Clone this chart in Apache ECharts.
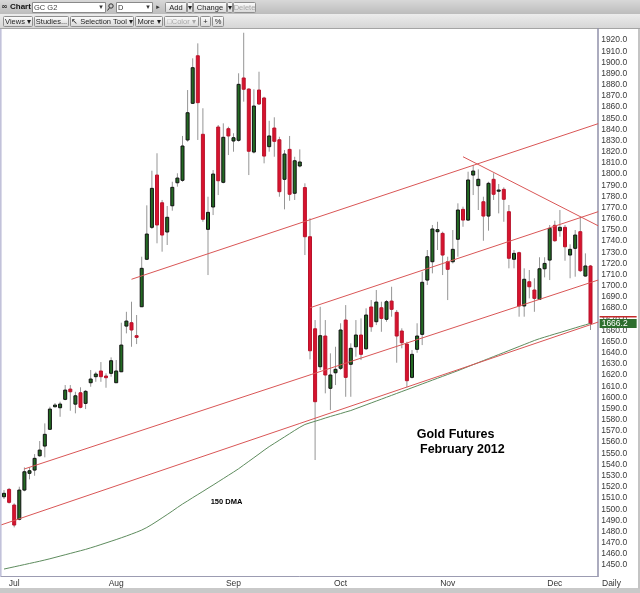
<!DOCTYPE html>
<html><head><meta charset="utf-8">
<script src="https://cdn.jsdelivr.net/npm/echarts/dist/echarts.min.js"></script>
<style>html,body{margin:0;padding:0;background:#fff}#c{width:640px;height:593px}</style>
</head><body><div id="c"></div>
<script>
// ---- trading days (categories) ----
const monthDays = [
  ['Jun', [29, 30]],
  ['Jul', [1, 5, 6, 7, 8, 11, 12, 13, 14, 15, 18, 19, 20, 21, 22, 25, 26, 27, 28, 29]],
  ['Aug', [1, 2, 3, 4, 5, 8, 9, 10, 11, 12, 15, 16, 17, 18, 19, 22, 23, 24, 25, 26, 29, 30, 31]],
  ['Sep', [1, 2, 6, 7, 8, 9, 12, 13, 14, 15, 16, 19, 20, 21, 22, 23, 26, 27, 28, 29, 30]],
  ['Oct', [3, 4, 5, 6, 7, 10, 11, 12, 13, 14, 17, 18, 19, 20, 21, 24, 25, 26, 27, 28, 31]],
  ['Nov', [1, 2, 3, 4, 7, 8, 9, 10, 11, 14, 15, 16, 17, 18, 21, 22, 23, 25, 28, 29, 30]],
  ['Dec', [1, 2, 5, 6, 7, 8, 9, 12]]
];
const monthLabels = ['Jul', 'Aug', 'Sep', 'Oct', 'Nov', 'Dec'];

// ---- OHLC values ----
const openV = [1511.1,1517.7,1503.7,1490.9,1517.1,1532.1,1535.0,1547.8,1556.5,1571.5,
1591.7,1590.8,1598.3,1607.5,1594.0,1604.2,1594.7,1613.2,1618.6,1623.7,
1619.2,1621.6,1613.2,1623.0,1663.9,1666.9,1655.3,1681.2,1723.7,1752.3,
1799.1,1774.3,1748.1,1771.6,1792.2,1794.4,1830.5,1863.3,1905.9,1835.6,
1750.5,1770.5,1842.1,1792.6,1840.6,1829.6,1830.2,1886.0,1876.1,1819.7,
1875.2,1868.1,1824.5,1841.2,1830.7,1795.3,1822.1,1782.8,1807.2,1787.9,
1743.9,1661.5,1627.5,1655.0,1608.2,1622.1,1626.1,1669.3,1629.7,1645.4,
1655.9,1643.6,1681.0,1667.8,1680.3,1670.0,1686.3,1676.2,1659.5,1647.8,
1618.0,1643.1,1656.5,1705.1,1721.5,1748.4,1746.9,1721.5,1721.5,1741.6,
1768.4,1758.8,1799.1,1789.6,1775.2,1762.4,1795.3,1784.8,1786.3,1766.3,
1723.7,1729.6,1681.9,1703.6,1696.2,1687.8,1715.2,1723.0,1754.1,1749.3,
1752.3,1727.5,1733.5,1748.4,1708.7,1717.7];
const closeV = [1514.2,1506.1,1485.8,1517.1,1533.5,1534.4,1545.5,1552.9,1567.0,1589.6,
1593.2,1594.1,1606.6,1605.1,1601.5,1591.2,1605.5,1616.5,1621.0,1618.6,
1617.7,1632.9,1623.7,1646.9,1668.4,1660.4,1653.8,1715.6,1746.3,1787.2,
1754.4,1745.4,1761.3,1788.1,1796.4,1825.1,1854.9,1895.2,1863.9,1759.5,
1765.7,1800.0,1794.0,1832.9,1834.1,1832.5,1880.3,1875.9,1820.4,1860.9,
1862.7,1816.1,1834.1,1829.3,1784.2,1817.9,1781.9,1811.9,1810.8,1743.9,
1641.8,1596.2,1655.3,1620.1,1620.1,1625.2,1660.4,1618.0,1644.0,1655.9,
1638.6,1673.8,1663.3,1685.4,1670.8,1685.7,1678.9,1655.0,1649.0,1615.0,
1638.6,1655.0,1703.1,1726.0,1750.8,1750.2,1727.5,1714.7,1732.6,1767.8,
1758.8,1794.7,1802.7,1795.3,1762.4,1791.7,1781.9,1785.7,1777.4,1724.6,
1729.0,1681.9,1705.8,1699.1,1688.7,1715.2,1720.0,1751.4,1740.3,1752.3,
1734.9,1732.6,1745.4,1713.5,1717.7,1666.2];
const lowV = [1509.1,1505.0,1483.7,1490.0,1516.0,1526.7,1529.9,1546.9,1546.4,1571.0,
1591.0,1582.7,1597.5,1588.1,1585.8,1590.3,1589.6,1609.6,1614.0,1614.0,
1608.7,1618.6,1613.0,1622.7,1657.4,1645.4,1647.8,1681.0,1723.0,1750.8,
1738.0,1730.5,1736.5,1767.2,1788.7,1793.1,1829.0,1862.7,1830.5,1757.3,
1709.6,1763.3,1781.2,1791.7,1817.0,1820.0,1829.0,1864.8,1799.1,1818.5,
1861.8,1809.6,1820.0,1815.5,1779.7,1768.4,1776.1,1776.8,1806.0,1727.5,
1634.1,1544.0,1624.6,1603.7,1588.7,1611.1,1624.6,1600.6,1600.6,1636.5,
1633.5,1642.5,1658.8,1664.8,1658.8,1667.8,1672.3,1631.1,1644.0,1609.1,
1617.0,1640.0,1646.9,1700.7,1711.1,1732.0,1709.6,1687.2,1720.0,1726.0,
1752.8,1758.0,1781.2,1767.8,1740.3,1749.3,1776.8,1764.8,1757.3,1715.6,
1715.6,1672.3,1672.3,1688.7,1676.7,1687.2,1707.5,1705.1,1739.4,1743.9,
1722.4,1706.7,1708.1,1712.3,1708.1,1660.4];
const highV = [1517.1,1519.0,1505.2,1520.1,1537.4,1537.4,1549.3,1561.0,1576.8,1591.7,
1595.0,1596.2,1611.1,1611.1,1605.1,1609.1,1606.7,1624.6,1623.0,1631.7,
1621.6,1635.9,1633.5,1666.9,1676.7,1685.7,1673.8,1726.0,1772.0,1803.0,
1818.6,1776.8,1771.4,1793.1,1800.7,1834.1,1875.2,1903.6,1917.0,1858.9,
1779.7,1803.6,1843.9,1845.4,1842.4,1836.5,1890.2,1926.5,1876.7,1875.9,
1891.6,1869.2,1847.7,1850.8,1833.4,1821.5,1834.1,1815.5,1822.1,1791.7,
1760.4,1669.3,1681.2,1669.3,1639.5,1645.4,1666.4,1682.7,1648.5,1669.3,
1670.8,1679.8,1687.2,1696.2,1685.7,1687.2,1699.1,1678.3,1661.9,1649.9,
1642.5,1666.4,1712.6,1732.0,1754.4,1757.3,1748.4,1726.0,1749.9,1773.8,
1770.8,1802.1,1808.1,1804.2,1779.7,1793.1,1800.7,1791.1,1788.1,1772.3,
1732.0,1730.5,1715.6,1714.1,1706.7,1725.5,1725.5,1754.4,1758.2,1767.8,
1754.4,1737.1,1749.9,1761.8,1729.0,1718.6];

// ---- 150-day moving average ----
const dma150 = [1446.4,1447.4,1448.4,1449.4,1450.4,1451.4,1452.4,1453.4,1454.5,1455.6,
1456.8,1458.0,1459.2,1460.4,1461.6,1462.8,1464.0,1465.4,1466.8,1468.3,
1469.8,1471.3,1472.8,1474.4,1476.0,1477.7,1479.4,1481.3,1483.6,1486.3,
1489.2,1492.2,1495.2,1498.3,1501.5,1504.6,1507.4,1510.3,1513.1,1515.9,
1518.8,1521.6,1524.5,1527.4,1530.3,1533.2,1536.2,1539.5,1542.8,1546.1,
1549.4,1552.8,1556.0,1558.9,1561.8,1564.7,1567.6,1570.5,1573.3,1575.8,
1577.3,1578.7,1580.1,1581.6,1583.0,1584.3,1585.6,1587.0,1588.3,1590.0,
1591.7,1593.4,1595.1,1596.8,1598.5,1600.2,1601.9,1603.6,1605.3,1607.0,
1608.7,1610.4,1612.1,1613.8,1615.5,1617.2,1618.9,1620.6,1622.3,1624.0,
1625.8,1627.6,1629.4,1631.2,1633.0,1634.8,1636.6,1638.4,1640.2,1642.0,
1643.8,1645.6,1647.4,1649.2,1651.0,1652.6,1654.0,1655.4,1656.8,1658.1,
1659.5,1660.9,1662.3,1663.7,1665.0,1666.4];

// ---- drawn trend lines: [candle index, price] ----
const trendUpper = [[25.0, 1705.8], [116.5, 1845.1]];
const trendMid   = [[60.0, 1680.3], [116.5, 1766.3]];
const trendLow1  = [[4.0, 1536.0], [116.5, 1705.1]];
const trendLow2  = [[-0.5, 1486.0], [116.5, 1667.5]];
const trendDown  = [[90.0, 1815.5], [116.5, 1753.7]];
const lastPrice = 1666.2;
const markerRed = 1672.3;

// ---- build ----
const categories = [], isMonthStart = [];
monthDays.forEach(([m, days]) => days.forEach((d, k) => {
  categories.push(m + ' ' + d);
  isMonthStart.push(k === 0 && monthLabels.includes(m));
}));
categories.push(''); isMonthStart.push(false);
const candleData = openV.map((o, i) => [i, o, closeV[i], lowV[i], highV[i]]);

const FONT = 'Liberation Sans';
function btn(x, y, w, h, label, disabled) {
  return [
    {type: 'rect', shape: {x: x, y: y, width: w, height: h, r: 1},
     style: {fill: {type: 'linear', x: 0, y: 0, x2: 0, y2: 1, colorStops: [{offset: 0, color: '#fefefe'}, {offset: 1, color: '#d6d6d6'}]},
             stroke: '#8f8f8f', lineWidth: 1}},
    {type: 'text', style: {text: label, x: x + w / 2, y: y + h / 2 + 0.5, align: 'center', verticalAlign: 'middle',
      fill: disabled ? '#a8a8a8' : '#1e1e1e', font: '7.5px "' + FONT + '"'}}
  ];
}
function txt(x, y, s, font, fill, align) {
  return {type: 'text', style: {text: s, x: x, y: y, align: align || 'left', verticalAlign: 'middle', font: font, fill: fill || '#1e1e1e'}};
}
const g = [];
// toolbar rows
g.push({type: 'rect', shape: {x: 0, y: 0, width: 640, height: 14},
  style: {fill: {type: 'linear', x: 0, y: 0, x2: 0, y2: 1, colorStops: [{offset: 0, color: '#d8d8d8'}, {offset: 1, color: '#bcbcbc'}]}}});
g.push({type: 'rect', shape: {x: 0, y: 14, width: 640, height: 14},
  style: {fill: {type: 'linear', x: 0, y: 0, x2: 0, y2: 1, colorStops: [{offset: 0, color: '#ececec'}, {offset: 1, color: '#d6d6d6'}]}}});
g.push({type: 'line', shape: {x1: 0, y1: 28.5, x2: 640, y2: 28.5}, style: {stroke: '#a4a4a4', lineWidth: 1}});
g.push(txt(1, 7, '\u221e', 'bold 8px "DejaVu Sans"', '#333'));
g.push(txt(10, 7, 'Chart', 'bold 8px "' + FONT + '"', '#111'));
g.push({type: 'rect', shape: {x: 32.5, y: 2.5, width: 73, height: 10}, style: {fill: '#fff', stroke: '#8a8a8a', lineWidth: 1}});
g.push(txt(34, 7.5, 'GC G2', '7.5px "' + FONT + '"', '#444'));
g.push(txt(101, 7.5, '\u25be', '7px "DejaVu Sans"', '#333', 'center'));
g.push({type: 'circle', shape: {cx: 111, cy: 6, r: 2.2}, style: {fill: 'none', stroke: '#333', lineWidth: 1}});
g.push({type: 'line', shape: {x1: 109.5, y1: 7.8, x2: 107.5, y2: 10.5}, style: {stroke: '#333', lineWidth: 1}});
g.push({type: 'rect', shape: {x: 116.5, y: 2.5, width: 36, height: 10}, style: {fill: '#fff', stroke: '#8a8a8a', lineWidth: 1}});
g.push(txt(118, 7.5, 'D', '7.5px "' + FONT + '"', '#333'));
g.push(txt(148, 7.5, '\u25be', '7px "DejaVu Sans"', '#333', 'center'));
g.push(txt(158, 7.5, '\u25b8', '7px "DejaVu Sans"', '#333', 'center'));
g.push(...btn(165.5, 2.5, 21, 10, 'Add'));
g.push(...btn(187.5, 2.5, 5, 10, '\u25be'));
g.push(...btn(193.5, 2.5, 33, 10, 'Change'));
g.push(...btn(227.5, 2.5, 5, 10, '\u25be'));
g.push(...btn(233.5, 2.5, 22, 10, 'Delete', true));
// row 2
g.push(...btn(3.5, 16.5, 29, 10, 'Views \u25be'));
g.push(...btn(34.5, 16.5, 34, 10, 'Studies...'));
g.push(...btn(70.5, 16.5, 63, 10, '\u2196 Selection Tool \u25be'));
g.push(...btn(135.5, 16.5, 27, 10, 'More \u25be'));
g.push(...btn(164.5, 16.5, 34, 10, '\u25a1Color \u25be', true));
g.push(...btn(200.5, 16.5, 10, 10, '+'));
g.push(...btn(212.5, 16.5, 11, 10, '%'));
// frame pieces
g.push({type: 'rect', shape: {x: 0, y: 29, width: 1.6, height: 548}, style: {fill: '#c2c2da'}});
g.push({type: 'rect', shape: {x: 0, y: 588, width: 640, height: 5}, style: {fill: '#c9c9c9'}});
g.push({type: 'rect', shape: {x: 638, y: 29, width: 2, height: 560}, style: {fill: '#c4c4c4'}});
g.push(txt(602, 584, 'Daily', '8.5px "' + FONT + '"', '#333'));
// annotations
g.push(txt(416.7, 435, 'Gold Futures', 'bold 12.5px "' + FONT + '"', '#000'));
g.push(txt(420, 450, 'February 2012', 'bold 12.5px "' + FONT + '"', '#000'));
g.push(txt(210.7, 502, '150 DMA', 'bold 7.5px "' + FONT + '"', '#000'));

function trend(d) {
  return {type: 'line', xAxisIndex: 1, yAxisIndex: 0, data: d, symbol: 'none', silent: true, z: 4,
    lineStyle: {color: '#d95656', width: 1}};
}

const chart = echarts.init(document.getElementById('c'), null, {renderer: 'canvas'});
chart.setOption({
  animation: false,
  backgroundColor: '#ffffff',
  textStyle: {fontFamily: FONT},
  grid: {left: 1.45, right: 41.85, top: 28.83, bottom: 16.8, containLabel: false, outerBoundsMode: 'none'},
  xAxis: [
    {type: 'category', data: categories, boundaryGap: true,
     axisLine: {show: true, lineStyle: {color: '#9c9cb2', width: 1}},
     axisTick: {show: false}, splitLine: {show: false},
     axisLabel: {interval: (idx) => isMonthStart[idx], formatter: (v) => v.split(' ')[0],
                 color: '#333', fontSize: 8.5, margin: 3, fontFamily: FONT}},
    {type: 'value', min: -0.5, max: 116.5, show: false}
  ],
  yAxis: {type: 'value', position: 'right', min: 1440, max: 1930, interval: 10,
    axisLine: {show: true, onZero: false, lineStyle: {color: '#9191aa', width: 1.5}},
    axisTick: {show: false}, splitLine: {show: false},
    axisLabel: {formatter: (v) => v.toFixed(1), color: '#3a3a3a', fontSize: 8.5, margin: 3,
                showMinLabel: false, showMaxLabel: false, fontFamily: FONT}},
  graphic: {elements: g},
  series: [
    {type: 'custom', name: 'GC G2', xAxisIndex: 0, yAxisIndex: 0, data: candleData, z: 3,
     dimensions: ['i', 'open', 'close', 'low', 'high'],
     encode: {x: 0, y: [1, 2, 3, 4]},
     renderItem: function (params, api) {
       const i = api.value(0);
       const pO = api.coord([i, api.value(1)]);
       const pC = api.coord([i, api.value(2)]);
       const pL = api.coord([i, api.value(3)]);
       const pH = api.coord([i, api.value(4)]);
       const up = api.value(2) >= api.value(1);
       const x = pO[0];
       const top = Math.min(pO[1], pC[1]), bot = Math.max(pO[1], pC[1]);
       const w = 3;
       return {type: 'group', children: [
         {type: 'line', shape: {x1: x, y1: pH[1], x2: x, y2: pL[1]}, style: {stroke: '#959595', lineWidth: 1}},
         {type: 'rect', shape: {x: x - w / 2, y: top, width: w, height: Math.max(bot - top, 1.2)},
          style: {fill: up ? '#236a23' : '#d8132e', stroke: up ? '#111111' : '#b8132b', lineWidth: 1}}
       ]};
     }},
    {type: 'line', name: '150 DMA', xAxisIndex: 0, yAxisIndex: 0, data: dma150, symbol: 'none', silent: true, z: 4,
     lineStyle: {color: '#5e8c5e', width: 1},
     markLine: {silent: true, symbol: 'none', animation: false,
       lineStyle: {color: 'rgba(0,0,0,0)', width: 1, type: 'solid'},
       label: {show: true},
       data: [
         {yAxis: markerRed, label: {show: true, position: 'end', distance: 1.5, formatter: '{r| }',
            rich: {r: {width: 37, height: 1.5, lineHeight: 1.5, fontSize: 1, backgroundColor: '#c42a2a'}}}},
         {yAxis: lastPrice, label: {show: true, position: 'end', distance: 1.5, formatter: lastPrice.toFixed(1),
            color: '#ffffff', backgroundColor: '#2d6e2d', fontSize: 8.5, lineHeight: 9, padding: [0, 9, 0, 2], fontFamily: FONT}}
       ]}},
    trend(trendUpper), trend(trendMid), trend(trendLow1), trend(trendLow2), trend(trendDown)
  ]
});
</script></body></html>
